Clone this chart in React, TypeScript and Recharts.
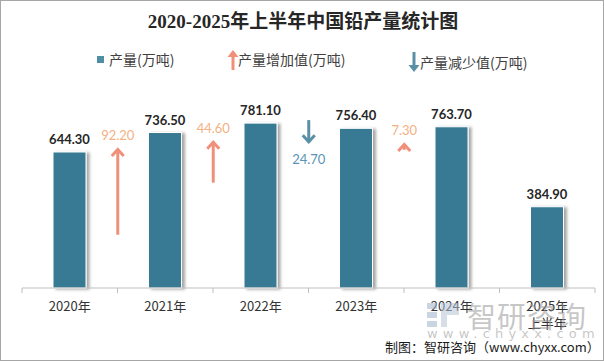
import React from "react";
import { Bar, ComposedChart, LabelList, XAxis, YAxis } from "recharts";

const years = ["2020年", "2021年", "2022年", "2023年", "2024年", "2025年\n上半年"];
const output = [644.3, 736.5, 781.1, 756.4, 763.7, 384.9];
// change to the next year, drawn as an arrow between the two bars
const changes = [92.2, 44.6, -24.7, 7.3, null, null];
// where each arrow starts, on the arrow scale
const arrowTail = [56.6, 112, 178.5, 146.9, null, null];

const W = 604;
const H = 361;
const margin = { top: 98, right: 9, left: 22, bottom: 33 };
const band = (W - margin.left - margin.right) / years.length;

const BAR = "#377A93";
const UP = "#F0907A";
const UP_TEXT = "#F4B183";
const DOWN = "#5A8FA8";
const DOWN_TEXT = "#5B93B5";
const CJK = "'Noto Sans CJK SC', 'Noto Sans', sans-serif";
const NUM = "Lato, 'Noto Sans CJK SC', sans-serif";

const data = years.map((year, i) => {
  const c = changes[i];
  const t = arrowTail[i];
  return {
    year,
    output: output[i],
    change: c,
    arrow: c == null || t == null ? null : [Math.min(t, t + c), Math.max(t, t + c)],
  };
});

const BarShape = (props: any) => {
  const { x, y, width, height } = props;
  return (
    <rect
      x={x}
      y={y}
      width={width}
      height={height}
      fill={BAR}
      stroke="#fff"
      strokeWidth={1}
      filter="url(#barShadow)"
    />
  );
};

const ArrowShape = (props: any) => {
  const { x, y, width, height, payload } = props;
  if (payload.change == null) return null;
  const cx = x + width / 2 + band / 2;
  const top = Math.min(y, y + height);
  const bottom = Math.max(y, y + height);
  const up = payload.change > 0;
  const label = Math.abs(payload.change).toFixed(2);
  if (up) {
    return (
      <g>
        <line x1={cx} y1={bottom} x2={cx} y2={top + 1} stroke={UP} strokeWidth={3} />
        <polyline
          points={`${cx - 6},${top + 8} ${cx},${top + 1.5} ${cx + 6},${top + 8}`}
          fill="none"
          stroke={UP}
          strokeWidth={3}
        />
        <text x={cx} y={top - 8} textAnchor="middle" fontSize={13} fill={UP_TEXT} fontFamily={NUM}>
          {label}
        </text>
      </g>
    );
  }
  return (
    <g>
      <line x1={cx} y1={top} x2={cx} y2={bottom - 1} stroke={DOWN} strokeWidth={3} />
      <polyline
        points={`${cx - 6},${bottom - 8} ${cx},${bottom - 1.5} ${cx + 6},${bottom - 8}`}
        fill="none"
        stroke={DOWN}
        strokeWidth={3}
      />
      <text x={cx} y={bottom + 21} textAnchor="middle" fontSize={13} fill={DOWN_TEXT} fontFamily={NUM}>
        {label}
      </text>
    </g>
  );
};

const YearTick = (props: any) => {
  const { x, y, payload, index } = props;
  const lines = String(payload.value).split("\n");
  return (
    <g>
      <line x1={x - band / 2} x2={x - band / 2} y1={y} y2={y + 5} stroke="#BFBFBF" />
      {index === years.length - 1 && (
        <line x1={x + band / 2} x2={x + band / 2} y1={y} y2={y + 5} stroke="#BFBFBF" />
      )}
      <text x={x} y={y + 23} textAnchor="middle" fontSize={13} fill="#333" fontFamily={CJK}>
        {lines.map((l, k) => (
          <tspan key={k} x={x} dy={k ? 16.5 : 0}>
            {l}
          </tspan>
        ))}
      </text>
    </g>
  );
};

const legendText: React.CSSProperties = {
  position: "absolute",
  top: 48,
  fontSize: 14,
  color: "#404040",
  fontFamily: CJK,
  lineHeight: "20px",
  whiteSpace: "nowrap",
};

export default function App() {
  return (
    <div
      style={{
        position: "absolute",
        left: 0,
        top: 0,
        width: W,
        height: H,
        boxSizing: "border-box",
        border: "1px solid #A6A6A6",
        background: "#fff",
        overflow: "hidden",
      }}
    >
      <svg width={0} height={0} style={{ position: "absolute" }}>
        <defs>
          <filter id="barShadow" x="-20%" y="-10%" width="160%" height="130%">
            <feDropShadow dx={3} dy={1} stdDeviation={1.8} floodColor="#000" floodOpacity={0.35} />
          </filter>
        </defs>
      </svg>

      <div
        style={{
          position: "absolute",
          top: 8,
          left: 0,
          width: W,
          textAlign: "center",
          fontSize: 19,
          fontWeight: 700,
          color: "#262626",
          fontFamily: "'Liberation Serif', 'Noto Sans CJK SC', serif",
          lineHeight: "26px",
        }}
      >
        2020-2025年上半年中国铅产量统计图
      </div>

      {/* legend */}
      <div style={{ position: "absolute", left: 96, top: 55, width: 7, height: 7, background: "#4F8FA6" }} />
      <div style={{ ...legendText, left: 108 }}>产量(万吨)</div>
      <svg style={{ position: "absolute", left: 226, top: 48 }} width={12} height={22}>
        <line x1={6} y1={21} x2={6} y2={3} stroke={UP} strokeWidth={3} />
        <polygon points="0.5,8 6,1 11.5,8" fill={UP} />
      </svg>
      <div style={{ ...legendText, left: 237 }}>产量增加值(万吨)</div>
      <svg style={{ position: "absolute", left: 407, top: 50 }} width={12} height={22}>
        <line x1={6} y1={1} x2={6} y2={18} stroke={DOWN} strokeWidth={3} />
        <polygon points="0.5,14 6,21 11.5,14" fill={DOWN} />
      </svg>
      <div style={{ ...legendText, left: 419, top: 51 }}>产量减少值(万吨)</div>

      <ComposedChart
        width={W}
        height={H}
        data={data}
        margin={margin}
        style={{ position: "absolute", left: -1, top: -1 }}
      >
        <XAxis
          dataKey="year"
          axisLine={{ stroke: "#BFBFBF" }}
          tickLine={false}
          tickSize={0}
          tickMargin={0}
          height={40}
          interval={0}
          tick={<YearTick />}
        />
        <XAxis xAxisId="arrow" dataKey="year" hide />
        <YAxis hide domain={[0, 900]} />
        <YAxis yAxisId="arrow" hide domain={[0, 202]} />
        <Bar dataKey="output" barSize={33} shape={<BarShape />} isAnimationActive={false}>
          <LabelList
            dataKey="output"
            position="top"
            offset={8}
            formatter={(v: any) => Number(v).toFixed(2)}
            style={{ fontSize: 13, fontWeight: 700, fill: "#262626", fontFamily: NUM }}
          />
        </Bar>
        <Bar
          dataKey="arrow"
          xAxisId="arrow"
          yAxisId="arrow"
          barSize={6}
          shape={<ArrowShape />}
          isAnimationActive={false}
        />
      </ComposedChart>

      {/* watermark */}
      <svg style={{ position: "absolute", left: 426, top: 302, opacity: 0.55 }} width={34} height={24}>
        <rect x={0} y={0} width={10} height={6} fill="#9DB3CC" />
        <rect x={0} y={9} width={10} height={6} fill="#9DB3CC" />
        <rect x={0} y={18} width={10} height={6} fill="#9DB3CC" />
        <path d="M14,0 H32 V12 H20 V24 H14 Z" fill="#B5C4D6" />
      </svg>
      <div
        style={{
          position: "absolute",
          left: 466,
          top: 296,
          fontSize: 29,
          color: "rgba(150,150,150,0.55)",
          fontFamily: CJK,
          lineHeight: "36px",
          letterSpacing: 1,
        }}
      >
        智研咨询
      </div>
      <div
        style={{
          position: "absolute",
          left: 426,
          top: 325,
          fontSize: 13,
          color: "rgba(150,150,150,0.55)",
          fontFamily: "'DejaVu Sans', sans-serif",
          lineHeight: "16px",
          letterSpacing: 5.2,
        }}
      >
        www.chyxx.com
      </div>

      <div
        style={{
          position: "absolute",
          left: 384,
          top: 337,
          fontSize: 13,
          color: "#1a1a1a",
          fontFamily: CJK,
          lineHeight: "18px",
          whiteSpace: "nowrap",
        }}
      >
        制图：智研咨询（www.chyxx.com）
      </div>
    </div>
  );
}
